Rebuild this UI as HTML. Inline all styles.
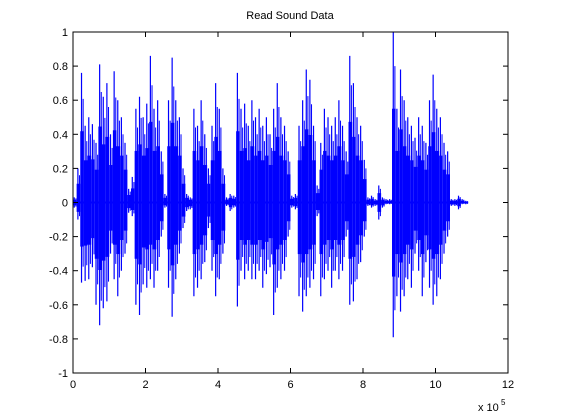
<!DOCTYPE html>
<html><head><meta charset="utf-8"><style>
body{margin:0;background:#fff;}
svg{display:block;font-family:"Liberation Sans",sans-serif;}
</style></head><body>
<svg id="chart" width="561" height="420" viewBox="0 0 561 420" xmlns="http://www.w3.org/2000/svg">
<rect x="0" y="0" width="561" height="420" fill="#fff"/>
<text x="290" y="19" font-size="11" text-anchor="middle">Read Sound Data</text>
<g id="wave"></g>
<g id="axes"></g>
</svg>
<script>
const binWidth = 0.1e5;
const maxVals = [0.03,0.2,0.76,0.45,0.5,0.46,0.35,0.81,0.62,0.7,0.4,0.77,0.6,0.5,0.35,0.08,0.15,0.55,0.62,0.5,0.58,0.86,0.55,0.6,0.3,0.05,0.6,0.85,0.6,0.5,0.2,0.05,0.03,0.55,0.45,0.6,0.4,0.2,0.45,0.7,0.55,0.2,0.03,0.05,0.04,0.76,0.55,0.58,0.45,0.6,0.5,0.55,0.45,0.5,0.4,0.55,0.7,0.5,0.45,0.3,0.04,0.05,0.45,0.6,0.78,0.72,0.45,0.1,0.35,0.55,0.5,0.45,0.5,0.6,0.45,0.3,0.86,0.7,0.5,0.45,0.25,0.03,0.04,0.02,0.1,0.03,0.02,0.02,1.0,0.55,0.78,0.6,0.5,0.45,0.38,0.5,0.45,0.35,0.6,0.75,0.55,0.5,0.35,0.3,0.02,0.02,0.04,0.02,0.01];
const minVals = [-0.03,-0.1,-0.47,-0.46,-0.45,-0.38,-0.6,-0.72,-0.62,-0.58,-0.3,-0.45,-0.55,-0.4,-0.3,-0.06,-0.08,-0.6,-0.66,-0.48,-0.5,-0.45,-0.5,-0.4,-0.2,-0.03,-0.5,-0.67,-0.45,-0.3,-0.15,-0.05,-0.04,-0.55,-0.5,-0.45,-0.35,-0.15,-0.4,-0.55,-0.45,-0.3,-0.02,-0.05,-0.03,-0.61,-0.4,-0.45,-0.4,-0.45,-0.45,-0.4,-0.5,-0.42,-0.38,-0.66,-0.5,-0.45,-0.4,-0.2,-0.03,-0.04,-0.55,-0.64,-0.55,-0.5,-0.45,-0.08,-0.55,-0.45,-0.4,-0.5,-0.4,-0.45,-0.4,-0.2,-0.6,-0.58,-0.45,-0.35,-0.2,-0.02,-0.03,-0.02,-0.1,-0.03,-0.01,-0.01,-0.79,-0.55,-0.64,-0.55,-0.45,-0.5,-0.3,-0.4,-0.55,-0.35,-0.5,-0.6,-0.55,-0.45,-0.3,-0.2,-0.02,-0.02,-0.04,-0.01,-0.01];
const xTicks = [0,2,4,6,8,10,12];
const yTicks = [-1,-0.8,-0.6,-0.4,-0.2,0,0.2,0.4,0.6,0.8,1];
const yTickLabels = ["-1","-0.8","-0.6","-0.4","-0.2","0","0.2","0.4","0.6","0.8","1"];

const L=73,R=508,T=32,B=373;
const xMax=12e5;
const sx=v=>L+(v/xMax)*(R-L);
const sy=v=>T+(1-v)/2*(B-T);
const NS='http://www.w3.org/2000/svg';
function mk(tag,attrs,parent){const e=document.createElementNS(NS,tag);for(const k in attrs)e.setAttribute(k,attrs[k]);parent.appendChild(e);return e;}
const wave=document.getElementById('wave');
const axes=document.getElementById('axes');

// baseline
const base=mk('line',{x1:sx(0),x2:sx(maxVals.length*binWidth),y1:sy(0),y2:sy(0),stroke:'#0000ff','stroke-width':2},wave);



maxVals.forEach((mx,i)=>{
  const mn=minVals[i];
  const x0=sx(i*binWidth), x1=sx((i+1)*binWidth), w=x1-x0;
  const core=mk('rect',{x:x0,y:sy(mx*0.55),width:w,height:Math.max(1,sy(mn*0.55)-sy(mx*0.55)),fill:'#0000ff'},wave);
  
  
  const sp=mk('line',{x1:x0+w*0.35,x2:x0+w*0.35,y1:sy(mx),y2:sy(mn),stroke:'#0000ff','stroke-width':1.2},wave);
  
  
  const sp2=mk('line',{x1:x0+w*0.8,x2:x0+w*0.8,y1:sy(mx*0.8),y2:sy(mn*0.8),stroke:'#0000ff','stroke-width':1},wave);
  
  
});

const box=mk('rect',{x:L,y:T,width:R-L,height:B-T,fill:'none',stroke:'#000','stroke-width':1},axes);



xTicks.forEach(t=>{
  const x=sx(t*1e5);
  mk('line',{x1:x,x2:x,y1:B,y2:B-5,stroke:'#000'},axes);
  mk('line',{x1:x,x2:x,y1:T,y2:T+5,stroke:'#000'},axes);
  const lb=mk('text',{x:x,y:B+15,'font-size':11,'text-anchor':'middle'},axes);
  lb.textContent=String(t);
  
  
});
yTicks.forEach((t,i)=>{
  const y=sy(t);
  mk('line',{x1:L,x2:L+5,y1:y,y2:y,stroke:'#000'},axes);
  mk('line',{x1:R,x2:R-5,y1:y,y2:y,stroke:'#000'},axes);
  const lb=mk('text',{x:L-5,y:y+4,'font-size':11,'text-anchor':'end'},axes);
  lb.textContent=yTickLabels[i];
  
  
});
const ex=mk('text',{x:478,y:411,'font-size':11},axes);
ex.textContent='x 10';


const ex2=mk('text',{x:501,y:405,'font-size':8},axes);
ex2.textContent='5';


</script>
</body></html>
